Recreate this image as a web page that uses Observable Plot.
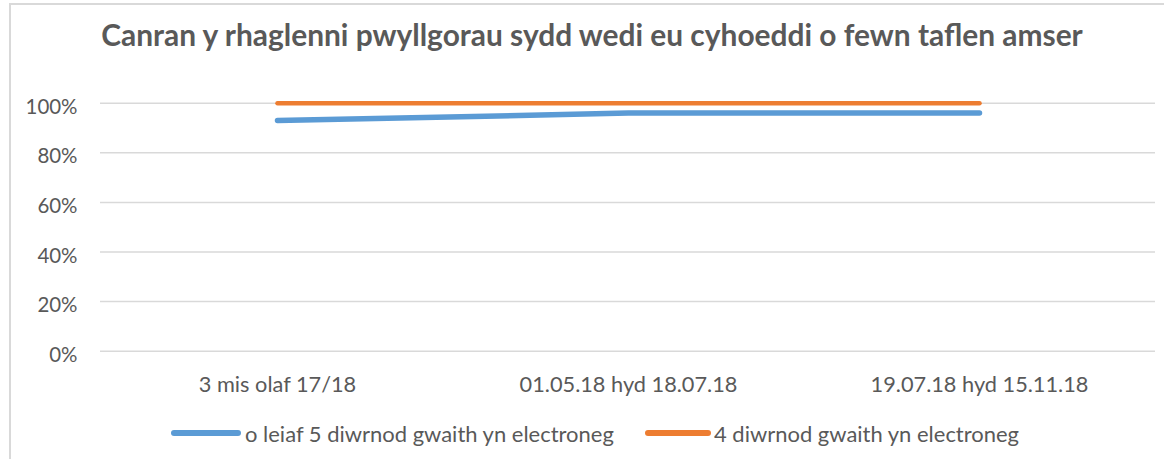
<!DOCTYPE html>
<html>
<head>
<meta charset="utf-8">
<script src="https://cdn.jsdelivr.net/npm/d3@7"></script>
<script src="https://cdn.jsdelivr.net/npm/@observablehq/plot@0.6"></script>
<style>
  html, body { margin: 0; padding: 0; background: #fff; }
  body { width: 1164px; height: 459px; overflow: hidden; position: relative; font-family: Lato, "Open Sans", sans-serif; color: #595959; }
  #frame { position: absolute; left: 9px; top: 3px; width: 1200px; height: 520px; border: 2px solid #D9D9D9; box-sizing: border-box; }
  #title { position: absolute; left: 0; width: 1184px; text-align: center; font-weight: bold; line-height: 1; white-space: nowrap; color: #595959; }
  #chart { position: absolute; left: 0; top: 80px; }
  .lg-swatch { position: absolute; height: 5.5px; border-radius: 3px; }
  .lg-text { position: absolute; line-height: 1; white-space: nowrap; color: #595959; }
</style>
</head>
<body>
<div id="frame"></div>
<div id="title"></div>
<div id="chart"></div>
<div id="legend"></div>
<script>
// ---- data ----
const titleText = "Canran y rhaglenni pwyllgorau sydd wedi eu cyhoeddi o fewn taflen amser";
const categories = ["3 mis olaf 17/18", "01.05.18 hyd 18.07.18", "19.07.18 hyd 15.11.18"];
const seriesNames = ["o leiaf 5 diwrnod gwaith yn electroneg", "4 diwrnod gwaith yn electroneg"];
const fiveDays = [0.93, 0.96, 0.96];
const fourDays = [1.00, 1.00, 1.00];
const yTicks = [0, 0.2, 0.4, 0.6, 0.8, 1];
const colors = ["#5B9BD5", "#ED7D31"];
const strokeWidths = [5.5, 4.5];

const rows = categories.flatMap((c, i) => [
  {cat: c, series: seriesNames[0], value: fiveDays[i]},
  {cat: c, series: seriesNames[1], value: fourDays[i]}
]);

// ---- font fitting (Calibri substitute) ----
const FAMILY = "Lato";
const ctx = document.createElement("canvas").getContext("2d");
function fit(text, weight, target) {
  ctx.font = `${weight} 100px ${FAMILY}`;
  return 100 * target / ctx.measureText(text).width;
}
const titleFs = fit(titleText, "bold", 984);
const xFs = fit(categories[1], "normal", 218);
const yFs = fit("100%", "normal", 52);
const legendFs = fit(seriesNames[0], "normal", 370);

// ---- title ----
const title = document.getElementById("title");
title.textContent = titleText;
title.style.fontSize = titleFs + "px";
title.style.top = (47 - 0.887 * titleFs) + "px";

// ---- chart ----
const H = 330;
const plot = Plot.plot({
  width: 1164,
  height: H,
  marginLeft: 100,
  marginRight: 9,
  marginTop: 22.7,
  marginBottom: H - 270.7,
  style: {fontFamily: FAMILY, color: "#595959", background: "transparent", overflow: "visible"},
  x: {type: "point", domain: categories, padding: 0.5},
  y: {domain: [0, 1]},
  color: {domain: seriesNames, range: colors},
  marks: [
    Plot.gridY(yTicks, {stroke: "#D9D9D9", strokeOpacity: 1, strokeWidth: 1.5}),
    Plot.axisY({ticks: yTicks, tickFormat: d => Math.round(d * 100) + "%", tickSize: 0, tickPadding: 23, dy: 4, label: null, fontSize: yFs}),
    Plot.axisX({tickSize: 0, tickPadding: 40.3 - 0.71 * xFs, label: null, fontSize: xFs}),
    ...seriesNames.map((name, k) =>
      Plot.line(rows.filter(d => d.series === name), {x: "cat", y: "value", stroke: "series", strokeWidth: strokeWidths[k], strokeLinecap: "round", strokeLinejoin: "round"})
    )
  ]
});
document.getElementById("chart").appendChild(plot);

// ---- legend ----
const legend = document.getElementById("legend");
const swatchX = [171, 645];
const swatchW = [70, 66];
const textX = [245, 714];
seriesNames.forEach((name, i) => {
  const sw = document.createElement("div");
  sw.className = "lg-swatch";
  sw.style.left = swatchX[i] + "px";
  sw.style.width = swatchW[i] + "px";
  sw.style.top = (433 - 2.75) + "px";
  sw.style.background = colors[i];
  legend.appendChild(sw);
  const t = document.createElement("div");
  t.className = "lg-text";
  t.textContent = name;
  t.style.left = textX[i] + "px";
  t.style.fontSize = legendFs + "px";
  t.style.top = (442 - 0.887 * legendFs) + "px";
  legend.appendChild(t);
});
</script>
</body>
</html>
